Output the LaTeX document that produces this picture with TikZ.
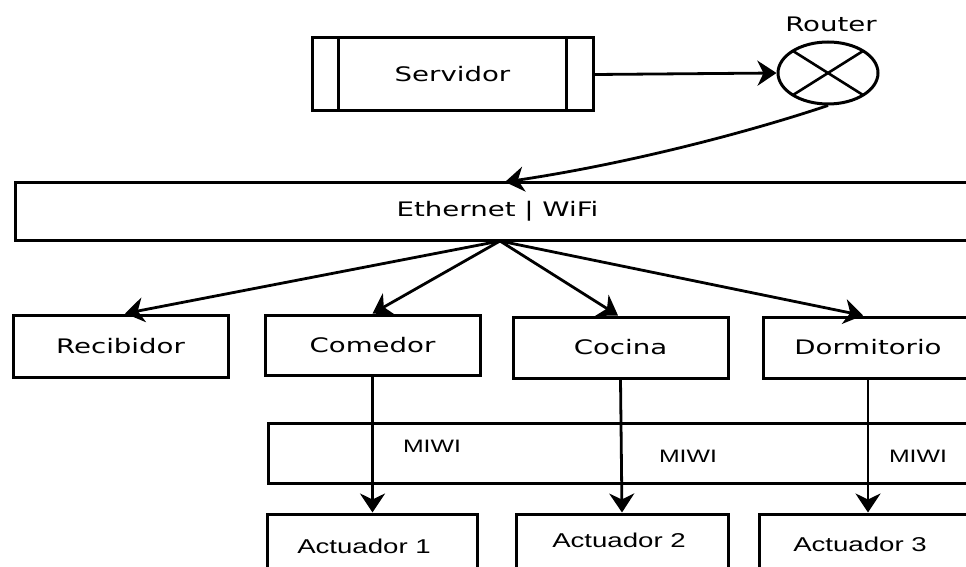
\documentclass[tikz,border=0pt]{standalone}
\usepackage{fontspec}
\setmainfont{DejaVu Sans}
\newfontfamily\arialf{Liberation Sans}
\usetikzlibrary{arrows.meta,shapes.geometric,calc}
\newcommand{\hs}[1]{\scalebox{1.38}[1]{#1}}
\begin{document}
\begin{tikzpicture}[x=1pt,y=-1pt,
  box/.style={draw, line width=3pt, rectangle, inner sep=0pt, font=\fontsize{20}{24}\selectfont},
  lbl/.style={inner sep=0pt, font=\fontsize{20}{24}\selectfont},
  albl/.style={inner sep=0pt, font=\arialf\fontsize{20}{24}\selectfont},
  mlbl/.style={inner sep=0pt, font=\arialf\fontsize{18}{22}\selectfont},
  arr/.style={line width=2.8pt, -{Stealth[length=19pt,width=25pt,inset=6pt]}}]
\useasboundingbox (0,0) rectangle (966,567);
\clip (0,0) rectangle (966,567);
% Servidor (process shape)
\node[box, minimum width=281pt, minimum height=73pt] (srv) at (452.5,74.5) {\hs{Servidor}};
\draw[line width=3pt] ($(srv.north west)+(28,0)$) -- ($(srv.south west)+(28,0)$);
\draw[line width=3pt] ($(srv.north east)+(-28,0)$) -- ($(srv.south east)+(-28,0)$);
% Router
\node[draw, ellipse, line width=3pt, minimum width=100pt, minimum height=62pt, inner sep=0pt] (rt) at (828,73) {};
\draw[line width=2.6pt] ($(rt.center)+(-35,-22)$) -- ($(rt.center)+(35,22)$);
\draw[line width=2.6pt] ($(rt.center)+(-35,22)$) -- ($(rt.center)+(35,-22)$);
\node[lbl] (rtl) at (831,24) {\hs{Router}};
% Ethernet | WiFi
\node[box, minimum width=965pt, minimum height=58pt] (eth) at (497.5,211) {\hs{Ethernet | WiFi}};
\coordinate (ethin) at (505,182);
\coordinate (ethout) at (500,241);
% Rooms
\node[box, minimum width=215pt, minimum height=62pt] (rec) at (120.5,346) {\hs{Recibidor}};
\node[box, minimum width=215pt, minimum height=60pt] (com) at (372.5,345) {\hs{Comedor}};
\node[box, minimum width=215pt, minimum height=61pt] (coc) at (620.5,347.5) {\hs{Cocina}};
\node[box, minimum width=210pt, minimum height=61pt] (dor) at (868,347.5) {\hs{Dormitorio}};
% MIWI bus
\node[box, minimum width=712pt, minimum height=60pt] (miwi) at (624,453) {};
\node[mlbl] (m1) at (432,446) {\hs{MIWI}};
\node[mlbl] (m2) at (688,456) {\hs{MIWI}};
\node[mlbl] (m3) at (918,456) {\hs{MIWI}};
% Actuators
\node[box, minimum width=210pt, minimum height=86pt] (a1) at (372.5,557) {};
\node[box, minimum width=212pt, minimum height=86pt] (a2) at (622,557) {};
\node[box, minimum width=218pt, minimum height=86pt] (a3) at (868,557) {};
\node[albl] (a1t) at (364,546) {\hs{Actuador 1}};
\node[albl] (a2t) at (619,540) {\hs{Actuador 2}};
\node[albl] (a3t) at (860,544) {\hs{Actuador 3}};
% Connectors
\draw[arr] (srv.east) -- (rt.west);
\draw[arr] (rt.south) .. controls (740,135) and (620,165) .. (ethin);
\draw[arr] (ethout) -- (rec.north -| 125,0);
\draw[arr] (ethout) -- (com.north);
\draw[arr] (ethout) -- (coc.north -| 618,0);
\draw[arr] (ethout) -- (dor.north -| 863,0);
\draw[arr] (com.south) -- (a1.north);
\draw[arr] (coc.south) -- (a2.north);
\draw[arr] (dor.south) -- (a3.north);
\end{tikzpicture}
\end{document}
